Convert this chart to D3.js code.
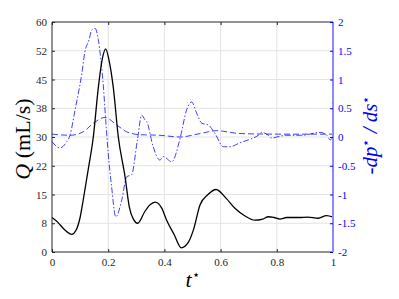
<!DOCTYPE html>
<html>
<head>
<meta charset="utf-8">
<script src="https://cdn.jsdelivr.net/npm/d3@7"></script>
<style>
  body { margin: 0; background: #fff; }
  text { font-family: "Liberation Serif", "DejaVu Serif", serif; }
</style>
</head>
<body>
<div id="chart"></div>
<script>
// Datos
const tQ = [0, 0.02, 0.045, 0.07, 0.085, 0.1, 0.111, 0.13, 0.147, 0.165, 0.178, 0.191, 0.203, 0.218, 0.236, 0.26, 0.275, 0.29, 0.305, 0.33, 0.349, 0.367, 0.39, 0.408, 0.435, 0.46, 0.485, 0.503, 0.527, 0.555, 0.584, 0.62, 0.651, 0.687, 0.722, 0.75, 0.77, 0.79, 0.811, 0.835, 0.853, 0.88, 0.91, 0.947, 0.977, 1];
const qVals = [9.0, 7.8, 5.8, 4.6, 5.6, 9.0, 13.5, 22, 30, 43, 50, 53, 50, 43, 30, 19.6, 11.8, 8.5, 7.5, 10.5, 12.3, 13, 11.5, 8.3, 4.5, 1.1, 2.5, 5.7, 12.3, 15, 16.3, 14, 11.4, 9.4, 8.3, 8.6, 9.2, 9.0, 8.6, 9.0, 9.0, 9.0, 9.1, 8.8, 9.5, 9.1];

const tDp = [0, 0.028, 0.05, 0.064, 0.082, 0.106, 0.117, 0.132, 0.141, 0.153, 0.165, 0.174, 0.183, 0.191, 0.2, 0.212, 0.227, 0.248, 0.266, 0.283, 0.304, 0.319, 0.331, 0.337, 0.36, 0.384, 0.396, 0.426, 0.456, 0.479, 0.497, 0.515, 0.533, 0.556, 0.58, 0.61, 0.633, 0.669, 0.699, 0.734, 0.746, 0.77, 0.782, 0.8, 0.835, 0.889, 0.954, 0.978, 0.99, 1];
const dpVals = [-0.08, -0.19, -0.1, 0.03, 0.47, 1.1, 1.48, 1.69, 1.86, 1.89, 1.69, 1.34, 0.87, 0.3, -0.28, -0.86, -1.39, -1.1, -0.69, -0.66, -0.05, 0.38, 0.3, 0.27, -0.17, -0.4, -0.34, -0.43, -0.02, 0.47, 0.61, 0.41, 0.24, 0.21, 0.06, -0.17, -0.17, -0.1, -0.05, 0.03, 0.08, 0.03, -0.02, 0.0, 0.03, 0.03, 0.08, 0.03, -0.05, 0.0];

const tDash = [0, 0.064, 0.111, 0.147, 0.189, 0.23, 0.266, 0.313, 0.384, 0.456, 0.527, 0.586, 0.669, 0.8, 1];
const dashVals = [0.05, 0.03, 0.09, 0.24, 0.34, 0.21, 0.09, 0.04, 0.03, 0.0, 0.06, 0.11, 0.06, 0.05, 0.05];

const xTicks = [0, 0.2, 0.4, 0.6, 0.8, 1];
const xTickLabels = ["0", "0.2", "0.4", "0.6", "0.8", "1"];
const yLeftTicks = [0, 7.5, 15, 22.5, 30, 37.5, 45, 52.5, 60];
const yLeftLabels = ["0", "8", "15", "22", "30", "38", "45", "52", "60"];
const yRightTicks = [-2, -1.5, -1, -0.5, 0, 0.5, 1, 1.5, 2];
const yRightLabels = ["-2", "-1.5", "-1", "-0.5", "0", "0.5", "1", "1.5", "2"];

// Configuración
const W = 399, H = 299;
const margin = { top: 22, right: 66, bottom: 47, left: 52 };
const width = W - margin.left - margin.right;
const height = H - margin.top - margin.bottom;
const axisGray = "#262626";
const blue = "#0000ff";
const serif = "'Liberation Serif', 'DejaVu Serif', serif";

const svg = d3.select("#chart").append("svg")
    .attr("width", W)
    .attr("height", H);

svg.append("rect").attr("width", W).attr("height", H).attr("fill", "white");

const g = svg.append("g").attr("transform", `translate(${margin.left},${margin.top})`);

const x = d3.scaleLinear().domain([0, 1]).range([0, width]);
const yL = d3.scaleLinear().domain([0, 60]).range([height, 0]);
const yR = d3.scaleLinear().domain([-2, 2]).range([height, 0]);

// Rejilla
g.append("g").selectAll("line").data(xTicks.slice(1, -1)).join("line")
    .attr("x1", d => x(d)).attr("x2", d => x(d))
    .attr("y1", 0).attr("y2", height)
    .attr("stroke", "#e3e3e3").attr("stroke-width", 1);
g.append("g").selectAll("line").data(yLeftTicks.slice(1, -1)).join("line")
    .attr("x1", 0).attr("x2", width)
    .attr("y1", d => yL(d)).attr("y2", d => yL(d))
    .attr("stroke", "#e3e3e3").attr("stroke-width", 1);

// Curvas
const lineQ = d3.line().x((d, i) => x(tQ[i])).y(d => yL(d)).curve(d3.curveMonotoneX);
const lineDp = d3.line().x((d, i) => x(tDp[i])).y(d => yR(d)).curve(d3.curveMonotoneX);
const lineDash = d3.line().x((d, i) => x(tDash[i])).y(d => yR(d)).curve(d3.curveMonotoneX);

g.append("path").datum(dashVals).attr("d", lineDash)
    .attr("fill", "none").attr("stroke", blue).attr("stroke-opacity", 0.75)
    .attr("stroke-width", 1).attr("stroke-dasharray", "6,3");

g.append("path").datum(dpVals).attr("d", lineDp)
    .attr("fill", "none").attr("stroke", blue).attr("stroke-opacity", 0.75)
    .attr("stroke-width", 1).attr("stroke-dasharray", "6,2,1.5,2");

g.append("path").datum(qVals).attr("d", lineQ)
    .attr("fill", "none").attr("stroke", "#000").attr("stroke-width", 1.3);

// Ejes
const fmt = (ticks, labels) => d => labels[ticks.indexOf(d)];

const xAxis = g.append("g").attr("transform", `translate(0,${height})`)
    .call(d3.axisBottom(x).tickValues(xTicks).tickFormat(fmt(xTicks, xTickLabels)).tickSize(-3).tickPadding(6));
const xTop = g.append("g")
    .call(d3.axisTop(x).tickValues(xTicks).tickFormat("").tickSize(-3));
const yAxisL = g.append("g")
    .call(d3.axisLeft(yL).tickValues(yLeftTicks).tickFormat(fmt(yLeftTicks, yLeftLabels)).tickSize(-3).tickPadding(5));
const yAxisR = g.append("g").attr("transform", `translate(${width},0)`)
    .call(d3.axisRight(yR).tickValues(yRightTicks).tickFormat(fmt(yRightTicks, yRightLabels)).tickSize(-3).tickPadding(5));

[xAxis, xTop, yAxisL].forEach(a => {
    a.select(".domain").attr("stroke", axisGray).attr("stroke-width", 1);
    a.selectAll(".tick line").attr("stroke", axisGray);
    a.selectAll("text").attr("fill", axisGray)
        .style("font-size", "11px").style("font-family", serif);
});
xTop.select(".domain").attr("d", `M0,0H${width}`);
xAxis.select(".domain").attr("d", `M0,0H${width}`);
yAxisL.select(".domain").attr("d", `M0,0V${height}`);

yAxisR.select(".domain").attr("d", `M0,0V${height}`).attr("stroke", "#8a8aff").attr("stroke-width", 2);
yAxisR.selectAll(".tick line").attr("stroke", blue);
yAxisR.selectAll("text").attr("fill", blue)
    .style("font-size", "11px").style("font-family", serif);

// Etiquetas de ejes
const yLab = svg.append("text")
    .attr("transform", `translate(30,${margin.top + height / 2 + 2}) rotate(-90)`)
    .attr("text-anchor", "middle")
    .style("font-size", "22px").style("font-family", serif).attr("fill", "#000");
yLab.append("tspan").style("font-style", "italic").text("Q");
yLab.append("tspan").text(" (mL/s)");

const yRLab = svg.append("text")
    .attr("transform", `translate(377,${margin.top + height / 2 - 2}) rotate(-90)`)
    .attr("text-anchor", "middle")
    .style("font-size", "21px").style("font-family", serif).style("font-style", "italic").attr("fill", blue);
yRLab.append("tspan").style("font-style", "normal").text("-");
yRLab.append("tspan").text("dp");
yRLab.append("tspan").attr("dy", -7).style("font-size", "13px").style("font-style", "normal").text("⋆");
yRLab.append("tspan").attr("dy", 7).text(" / ds");
yRLab.append("tspan").attr("dy", -7).style("font-size", "13px").style("font-style", "normal").text("⋆");

const xLab = svg.append("text")
    .attr("x", margin.left + width / 2)
    .attr("y", 287)
    .attr("text-anchor", "middle")
    .style("font-size", "22px").style("font-family", serif).attr("fill", "#000");
xLab.append("tspan").style("font-style", "italic").text("t");
xLab.append("tspan").attr("dy", -8).style("font-size", "13px").text("⋆");
</script>
</body>
</html>
